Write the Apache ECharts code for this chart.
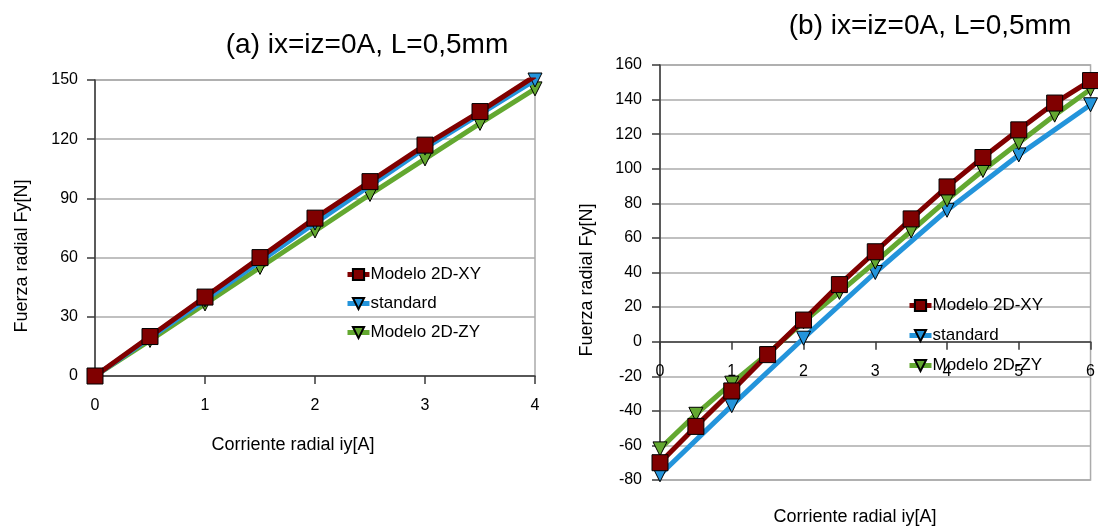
<!DOCTYPE html>
<html>
<head>
<meta charset="utf-8">
<script src="https://cdn.jsdelivr.net/npm/echarts@6/dist/echarts.min.js"></script>
<style>
html,body{margin:0;padding:0;background:#fff;}
#c{width:1098px;height:527px;}
</style>
</head>
<body>
<div id="c"></div>
<script>
// ---- Data: chart (a) ----
const xA = [0, 0.5, 1, 1.5, 2, 2.5, 3, 3.5, 4];
const xyA = [0, 20, 40, 60, 80, 98.5, 117, 134, 152];
const stdXA = [0, 1, 2, 3, 4];
const stdA = [0, 38.5, 77.5, 115.5, 150];
const zyA = [0, 18, 36.5, 55, 73.5, 92, 110, 128, 145.5];

// ---- Data: chart (b) ----
const xB = [0, 0.5, 1, 1.5, 2, 2.5, 3, 3.5, 4, 4.5, 5, 5.5, 6];
const xyB = [-70, -49, -28.5, -7.5, 12.5, 33, 52, 71, 89.5, 106.5, 122.5, 138, 151];
const stdXB = [0, 1, 2, 3, 4, 5, 6];
const stdB = [-77, -37, 2, 40, 76, 108, 137];
const zyB = [-62, -42, -24, -7, 11.5, 28.5, 46, 64, 82, 99, 115, 131, 146];

// ---- Axis ranges / tick steps ----
const axA = { xMax: 4, yMin: 0, yMax: 150, yStep: 30 };
const axB = { xMax: 6, yMin: -80, yMax: 160, yStep: 20 };

// ---- Texts ----
const seriesNames = ['Modelo 2D-XY', 'standard', 'Modelo 2D-ZY'];
const titleA = '(a) ix=iz=0A, L=0,5mm';
const titleB = '(b) ix=iz=0A, L=0,5mm';
const xName = 'Corriente radial iy[A]';
const yName = 'Fuerza radial Fy[N]';

const FONT = 'Liberation Sans, Arial, sans-serif';
const RED = '#800000', BLUE = '#2394DB', GREEN = '#63A830';
const GRID_C = '#ababab', AXIS_C = '#3a3a3a';

const gridA = { left: 95, right: 563, top: 80, bottom: 151 };
const gridB = { left: 660, right: 6, top: 65, bottom: 47 };
const H = 527;

function pairs(xs, ys) { return xs.map((x, i) => [x, ys[i]]); }

function mkSeries(name, data, gi, color, symbol, z, clip) {
  return {
    name: name, type: 'line', xAxisIndex: gi, yAxisIndex: gi,
    data: data, clip: clip, z: z,
    lineStyle: { color: color, width: 5 },
    itemStyle: { color: color, borderColor: '#000', borderWidth: 1 },
    symbol: symbol, symbolSize: symbol === 'rect' ? 16 : 14,
    symbolRotate: symbol === 'rect' ? 0 : 180,
    showSymbol: true, animation: false
  };
}

function xAx(gi, max, offset) {
  return {
    type: 'value', gridIndex: gi, min: 0, max: max, interval: 1,
    position: 'bottom', offset: offset,
    axisLine: { show: true, onZero: false, lineStyle: { color: AXIS_C, width: 1.5 } },
    axisTick: { show: true, length: 8, lineStyle: { color: AXIS_C, width: 1.5 } },
    axisLabel: { color: '#000', fontFamily: FONT, fontSize: 16, margin: 22 },
    splitLine: { show: false }
  };
}
function yAx(gi, ax, margin) {
  return {
    type: 'value', gridIndex: gi, min: ax.yMin, max: ax.yMax, interval: ax.yStep,
    axisLine: { show: true, onZero: false, lineStyle: { color: AXIS_C, width: 1.5 } },
    axisTick: { show: true, length: 8, lineStyle: { color: AXIS_C, width: 1.5 } },
    axisLabel: { color: '#000', fontFamily: FONT, fontSize: 16, margin: margin },
    splitLine: { show: true, lineStyle: { color: GRID_C, width: 1.5 } }
  };
}
function txt(x, y, s, size, rot) {
  return {
    type: 'text', x: x, y: y, rotation: rot || 0,
    style: { text: s, fontFamily: FONT, fontSize: size, fill: '#000', align: 'center', verticalAlign: 'middle' }
  };
}
function legend(left, top, gap) {
  return {
    orient: 'vertical', left: left, top: top, data: seriesNames,
    itemWidth: 22, itemHeight: 14, itemGap: gap,
    lineStyle: { width: 5 },
    textStyle: { color: '#000', fontFamily: FONT, fontSize: 17, padding: [0, 0, 0, -4] },
    selectedMode: false
  };
}

// offset that moves the bottom x axis of chart (b) up onto y = 0
const plotHB = H - gridB.top - gridB.bottom;
const offB = -((0 - axB.yMin) / (axB.yMax - axB.yMin)) * plotHB;

const chart = echarts.init(document.getElementById('c'), null, { renderer: 'canvas' });
chart.setOption({
  backgroundColor: '#fff',
  animation: false,
  grid: [
    Object.assign({ show: true, borderColor: GRID_C, borderWidth: 1.5, backgroundColor: 'transparent' }, gridA),
    Object.assign({ show: true, borderColor: GRID_C, borderWidth: 1.5, backgroundColor: 'transparent' }, gridB)
  ],
  xAxis: [xAx(0, axA.xMax, 0), xAx(1, axB.xMax, offB)],
  yAxis: [yAx(0, axA, 17), yAx(1, axB, 18)],
  legend: [legend(340, 261, 12), legend(902, 292, 13)],
  graphic: [
    txt(367, 45, titleA, 28),
    txt(930, 26, titleB, 28),
    txt(293, 445, xName, 18),
    txt(855, 517, xName, 18),
    txt(22, 256, yName, 18, Math.PI / 2),
    txt(587, 280, yName, 18, Math.PI / 2)
  ],
  series: [
    mkSeries(seriesNames[2], pairs(xA, zyA), 0, GREEN, 'triangle', 2, false),
    mkSeries(seriesNames[1], pairs(stdXA, stdA), 0, BLUE, 'triangle', 3, false),
    mkSeries(seriesNames[0], pairs(xA, xyA), 0, RED, 'rect', 4, true),
    mkSeries(seriesNames[1], pairs(stdXB, stdB), 1, BLUE, 'triangle', 2, false),
    mkSeries(seriesNames[2], pairs(xB, zyB), 1, GREEN, 'triangle', 3, false),
    mkSeries(seriesNames[0], pairs(xB, xyB), 1, RED, 'rect', 4, false)
  ]
});
</script>
</body>
</html>
